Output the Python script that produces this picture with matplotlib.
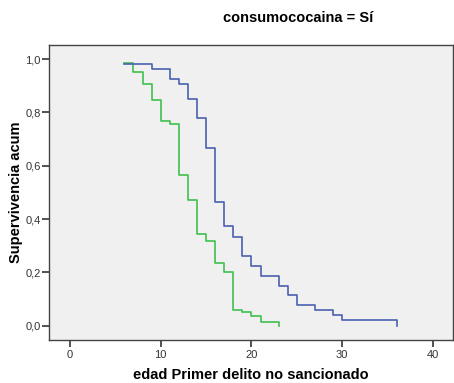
import matplotlib
matplotlib.use('Agg')
import matplotlib.pyplot as plt
from matplotlib.ticker import FuncFormatter

# Kaplan-Meier steps (time, cumulative survival after the drop)
blue_t = [6, 9, 11, 12, 13, 14, 15, 16, 17, 18, 19, 20, 21, 23, 24, 25, 27, 29, 30, 36]
blue_s = [0.981, 0.962, 0.925, 0.907, 0.852, 0.778, 0.666, 0.463, 0.372, 0.334,
          0.260, 0.224, 0.186, 0.150, 0.114, 0.076, 0.058, 0.039, 0.021, 0.0]

green_t = [6, 7, 8, 9, 10, 11, 12, 13, 14, 15, 16, 17, 18, 19, 20, 21, 23]
green_s = [0.986, 0.952, 0.907, 0.846, 0.766, 0.755, 0.566, 0.472, 0.343, 0.319,
           0.236, 0.201, 0.060, 0.050, 0.037, 0.014, 0.0]

BLUE = '#4a60b0'
GREEN = '#40c050'

plt.rcParams['font.family'] = ['Liberation Sans', 'DejaVu Sans']

fig = plt.figure(figsize=(4.54, 3.83), dpi=100)
ax = fig.add_axes([49 / 454, 1 - 340 / 383, 404 / 454, 295.3 / 383])
ax.set_facecolor('#f0f0f0')

ax.step(green_t, green_s, where='post', color=GREEN, lw=1.2)
ax.step(blue_t, blue_s, where='post', color=BLUE, lw=1.2)

ax.set_xlim(-2.3, 42.2)
ax.set_ylim(-0.054, 1.054)
ax.set_xticks([0, 10, 20, 30, 40])
ax.set_yticks([0, 0.2, 0.4, 0.6, 0.8, 1.0])
ax.yaxis.set_major_formatter(FuncFormatter(lambda v, p: f'{v:.1f}'.replace('.', ',')))
ax.tick_params(direction='out', length=4.8, width=1.2, colors='#333333', labelsize=8)
ax.tick_params(axis='y', pad=1)
ax.tick_params(axis='x', pad=2.5)

for sp in ax.spines.values():
    sp.set_color('#444444')
    sp.set_linewidth(1)

ax.set_xlabel('edad Primer delito no sancionado', fontsize=10.5, fontweight='bold')
ax.set_ylabel('Supervivencia acum', fontsize=10.5, fontweight='bold')
ax.xaxis.set_label_coords(0.5, -0.095)
ax.yaxis.set_label_coords(-0.064, 0.5)

fig.text(298 / 454, 1 - 18 / 383, 'consumococaina = Sí', ha='center', va='center',
         fontsize=10.5, fontweight='bold')

fig.savefig('out.png', dpi=100, facecolor='white')
